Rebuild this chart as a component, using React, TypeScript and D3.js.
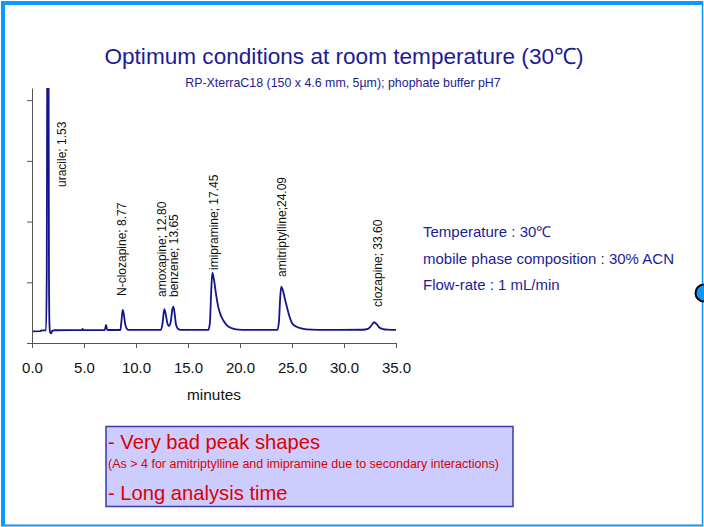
import React, { useEffect, useRef } from "react";
import * as d3 from "d3";

// chromatogram trace: [minutes, signal]
const trace: [number, number][] = [
  [0, 9.6], [0.8, 9.7], [0.9, 10.3], [1.35, 10.4], [1.42, 60], [1.48, 300], [1.53, 400],
  [1.58, 300], [1.63, 60], [1.68, 15], [1.75, 8.5], [1.85, 8.0], [1.95, 10.2], [2.2, 10.5],
  [4.8, 10.6], [4.87, 11.6], [4.95, 10.6], [7.0, 10.7], [7.12, 15], [7.22, 11], [7.35, 10.7],
  [8.5, 10.7], [8.6, 18], [8.72, 27.2], [8.82, 24], [8.95, 16], [9.1, 12], [9.3, 10.8],
  [12.4, 10.8], [12.55, 16], [12.72, 27.8], [12.85, 24], [13.0, 17], [13.17, 14], [13.35, 18],
  [13.5, 28], [13.6, 30], [13.72, 24], [13.85, 15], [14.05, 11.5], [14.3, 10.8],
  [16.95, 10.8], [17.1, 16], [17.22, 40], [17.34, 58], [17.5, 52], [17.7, 40], [17.9, 30],
  [18.1, 24], [18.4, 18.5], [18.7, 15], [19.1, 12.5], [19.6, 11.2], [20.2, 10.8],
  [23.6, 10.8], [23.75, 18], [23.85, 35], [23.96, 46.5], [24.1, 44], [24.3, 37], [24.5, 30],
  [24.75, 22], [25.0, 16.5], [25.4, 13.5], [25.8, 12.2], [26.4, 11.2], [27.5, 10.8],
  [31.8, 10.9], [32.3, 11.6], [32.6, 14], [32.9, 17.1], [33.15, 15.5], [33.4, 12.8],
  [33.75, 11.5], [34.2, 11.0], [35, 10.8],
];

const peakNames = ["uracile; 1.53", "N-clozapine; 8.77", "amoxapine; 12.80", "benzene; 13.65",
  "imipramine; 17.45", "amitriptylline;24.09", "clozapine; 33.60"];
const peakTimes = [1.53, 8.77, 12.8, 13.65, 17.45, 24.09, 33.6];

const xTicks = [0, 5, 10, 15, 20, 25, 30, 35];
const yTicks = [0, 50, 100, 150, 200];

const conditions = ["Temperature : 30\u2103", "mobile phase composition : 30% ACN", "Flow-rate : 1 mL/min"];

// label layout (pixel offsets from peak, and bottom of rotated text)
const labelDx = [14, -1.5, -3, 0, 0.8, -0.8, -3];
const labelBottom = [187, 296, 297, 297, 270, 277, 307];

const W = 704, H = 527;
const plot = { left: 32, right: 396, top: 88, bottom: 343 };
const FONT = "'Liberation Sans', Arial, Helvetica, sans-serif";
const NAVY = "#1c1c96";
const RED = "#dd0000";

export default function App() {
  const ref = useRef<SVGSVGElement | null>(null);

  const x = d3.scaleLinear().domain([0, 35]).range([plot.left, plot.right]);
  const y = d3.scaleLinear().domain([0, 210]).range([plot.bottom, plot.top]);

  useEffect(() => {
    if (ref.current == null) return;
    const svg = d3.select(ref.current);
    svg.selectAll(".axis").remove();

    const gx = svg.append("g").attr("class", "axis")
      .attr("transform", "translate(0," + plot.bottom + ")")
      .call(d3.axisBottom(x).tickValues(xTicks).tickFormat(d3.format(".1f")).tickSize(5).tickSizeOuter(0).tickPadding(14));
    gx.selectAll("text").style("font-family", FONT).style("font-size", "15px").attr("fill", "#111");
    gx.selectAll("path,line").attr("stroke", "#555");

    const gy = svg.append("g").attr("class", "axis")
      .attr("transform", "translate(" + plot.left + ",0)")
      .call(d3.axisLeft(y).tickValues(yTicks).tickFormat(() => "").tickSize(5).tickSizeOuter(0));
    gy.selectAll("path,line").attr("stroke", "#555");
  }, []);

  const line = d3.line<[number, number]>()
    .x(d => x(d[0]))
    .y(d => y(d[1]))
    .curve(d3.curveMonotoneX);

  return (
    <svg ref={ref} width={W} height={H} style={{ position: "absolute", left: 0, top: 0, background: "#fff" }}>
      {/* slide frame */}
      <line x1={3} y1={1} x2={3} y2={526} stroke="#0a99ff" strokeWidth={4} />
      <line x1={1} y1={3} x2={703} y2={3} stroke="#0a99ff" strokeWidth={4} />
      <line x1={702.5} y1={1} x2={702.5} y2={526} stroke="#0a99ff" strokeWidth={1.5} />
      <line x1={1} y1={525.5} x2={703} y2={525.5} stroke="#0a99ff" strokeWidth={2} />
      <circle cx={704} cy={293} r={8.5} fill="#0a99ff" stroke="#000" strokeWidth={2} />

      <text x={344} y={63.5} textAnchor="middle" fontFamily={FONT} fontSize={22.6} fill={NAVY}>
        Optimum conditions at room temperature (30{"\u2103"})
      </text>
      <text x={343} y={87} textAnchor="middle" fontFamily={FONT} fontSize={12.4} fill={NAVY}>
        RP-XterraC18 (150 x 4.6 mm, 5µm); phophate buffer pH7
      </text>

      <defs>
        <clipPath id="plotclip">
          <rect x={plot.left} y={plot.top} width={plot.right - plot.left + 3} height={plot.bottom - plot.top} />
        </clipPath>
      </defs>
      <path d={line(trace) || ""} fill="none" stroke="#14148a" strokeWidth={1.8} clipPath="url(#plotclip)" />

      {peakNames.map((name, i) => (
        <text key={name} transform={`translate(${x(peakTimes[i]) + labelDx[i] + 4},${labelBottom[i]}) rotate(-90)`}
          fontFamily={FONT} fontSize={12} fill="#111">{name}</text>
      ))}

      <text x={214} y={400} textAnchor="middle" fontFamily={FONT} fontSize={15.4} fill="#111">minutes</text>

      {conditions.map((c, i) => (
        <text key={c} x={423} y={237 + i * 26.5} fontFamily={FONT} fontSize={15} fill={NAVY}>{c}</text>
      ))}

      <rect x={106} y={426.5} width={407} height={80} fill="#ccccff" stroke="#3a3aaa" strokeWidth={1.5} />
      <text x={108} y={449} fontFamily={FONT} fontSize={20.2} fill={RED}>- Very bad peak shapes</text>
      <text x={108} y={467.5} fontFamily={FONT} fontSize={12.5} fill={RED}>
        (As &gt; 4 for amitriptylline and imipramine due to secondary interactions)
      </text>
      <text x={108} y={500} fontFamily={FONT} fontSize={20.2} fill={RED}>- Long analysis time</text>
    </svg>
  );
}
